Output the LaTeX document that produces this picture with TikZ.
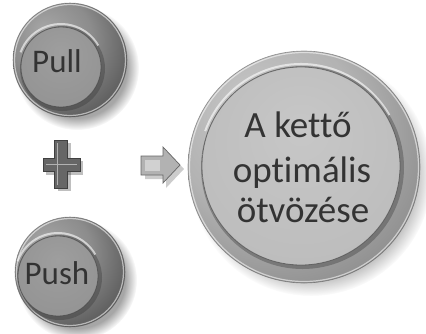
\documentclass[tikz,border=0pt]{standalone}
\usepackage{fontspec}
\setmainfont{Carlito}[RawFeature={-liga;-clig;-calt;-dlig}]
\usetikzlibrary{fadings,calc}

% metallic gradients
\pgfdeclareradialshading{ringdark}{\pgfpoint{-12bp}{14bp}}{%
  color(0bp)=(black!35); color(18bp)=(black!45); color(32bp)=(black!62);
  color(45bp)=(black!70); color(60bp)=(black!75)}
\pgfdeclareradialshading{ringlight}{\pgfpoint{-12bp}{14bp}}{%
  color(0bp)=(black!22); color(20bp)=(black!30); color(34bp)=(black!44);
  color(46bp)=(black!55); color(60bp)=(black!62)}
\pgfdeclareradialshading{facedark}{\pgfpoint{0bp}{10bp}}{%
  color(0bp)=(black!38); color(30bp)=(black!42); color(50bp)=(black!50)}
\pgfdeclareradialshading{facelight}{\pgfpoint{0bp}{10bp}}{%
  color(0bp)=(black!22); color(30bp)=(black!26); color(50bp)=(black!34)}

\tikzset{
  shadowdisc/.style={fill=black, opacity=0.35,
    path fading=circle with fuzzy edge 20 percent},
  txt/.style={text=black!80, inner sep=0pt},
}

% button: #1 centre of ring, #2 ring radius, #3 centre of face, #4 face radius,
% #5 ring shading, #6 face shading
\newcommand{\metalbutton}[6]{%
  \fill[shadowdisc] ($#1+(7,8)$) circle ({#2+5});
  \shade[shading=#5] #1 circle (#2);
  \draw[white, opacity=0.55, line width=1.2pt] #1 circle ({#2-1.5});
  \draw[black!70, opacity=0.5, line width=0.6pt] #1 circle (#2);
  % bevel under the face
  \fill[black!80, opacity=0.35] ($#3+(1.5,1.5)$) circle ({#4+2.5});
  \draw[white, opacity=0.6, line width=2pt]
     #3 ++(200:{#4+3}) arc[start angle=200, end angle=330, radius={#4+3}];
  \shade[shading=#6] #3 circle (#4);
  \draw[black!75, opacity=0.6, line width=0.8pt] #3 circle (#4);
}

\begin{document}
\begin{tikzpicture}[x=1pt, y=-1pt]
  \useasboundingbox (0,0) rectangle (426,333);
  \fill[white] (0,0) rectangle (426,333);

  % Pull button
  \metalbutton{(70,60)}{57}{(61,67)}{40}{ringdark}{facedark}
  \node[txt, font=\fontsize{33}{36}\selectfont] (pull) at (57,61) {Pull};

  % Push button
  \metalbutton{(70,272)}{55}{(58,276)}{40}{ringdark}{facedark}
  \node[txt, font=\fontsize{33}{36}\selectfont] (push) at (57,273) {Push};

  % result button
  \metalbutton{(304,167)}{116}{(301,166)}{99}{ringlight}{facelight}
  \node[txt, font=\fontsize{37}{42}\selectfont, anchor=base] (l1) at (298,137) {A kettő};
  \node[txt, font=\fontsize{37}{42}\selectfont, anchor=base] (l2) at (302,182) {optimális};
  \node[txt, font=\fontsize{37}{42}\selectfont, anchor=base] (l3) at (303,222) {ötvözése};

  % plus sign
  \fill[black, opacity=0.25] (58,143) rectangle (71,191);
  \fill[black, opacity=0.25] (46,161) rectangle (83,175);
  \path[fill=black!60, draw=black!75, line width=0.6pt]
    (54,140) -- (67,140) -- (67,158) -- (80,158) -- (80,171) -- (67,171)
    -- (67,188) -- (54,188) -- (54,171) -- (43,171) -- (43,158) -- (54,158) -- cycle;
  \draw[black!30, line width=0.8pt] (57,143) -- (57,185) (46,164.5) -- (77,164.5);
  \node[inner sep=0pt] (plus) at (61,164) {};

  % arrow
  \fill[black, opacity=0.2] (145,160) -- (166,160) -- (166,150) -- (184,169)
    -- (166,188) -- (166,179) -- (145,179) -- cycle;
  \path[fill=black!30, draw=black!60, line width=0.7pt]
    (141,156) -- (163,156) -- (163,147) -- (180,165) -- (163,183)
    -- (163,175) -- (141,175) -- cycle;
  \path[fill=black!18] (145,160) -- (160,160) -- (160,171) -- (145,171) -- cycle;
  \node[inner sep=0pt] (arr) at (160,165) {};
\end{tikzpicture}
\end{document}
